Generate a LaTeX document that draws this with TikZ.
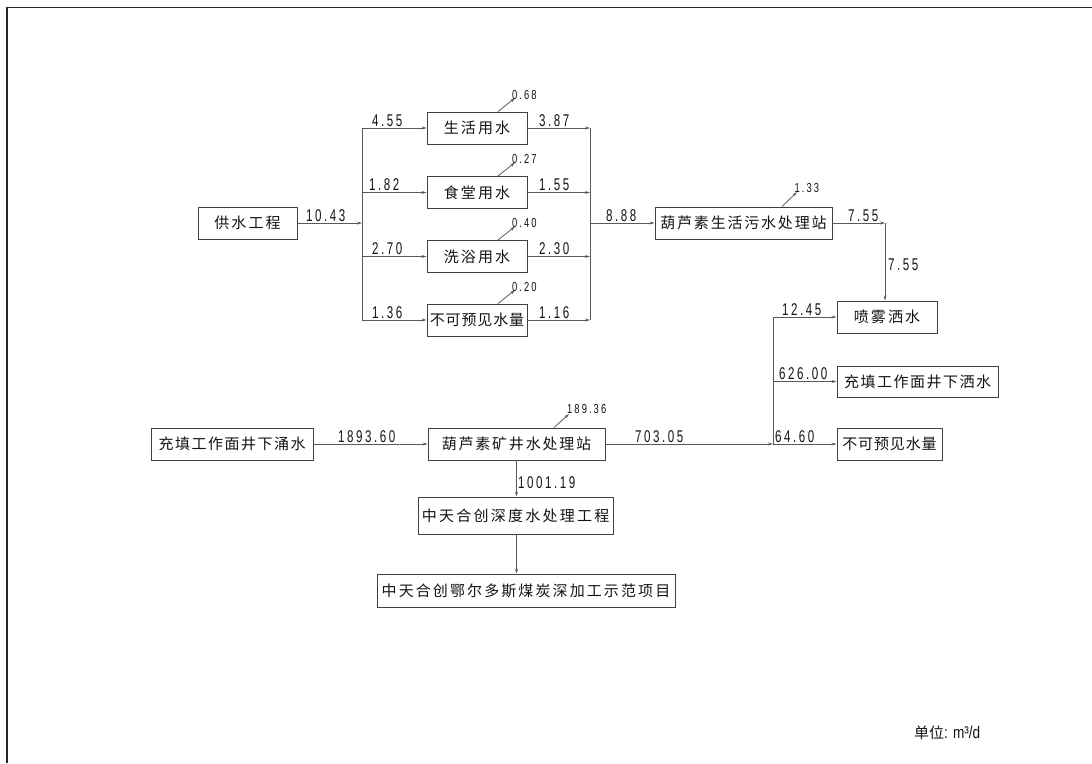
\documentclass[tikz,border=0pt]{standalone}
\usepackage{fontspec}
\usetikzlibrary{arrows.meta}
\newfontfamily\cjk{Noto Sans CJK SC}
\newfontfamily\numf[FakeStretch=0.68,LetterSpace=15]{Liberation Sans}
\newfontfamily\unitf[FakeStretch=0.8]{Liberation Sans}
\newfontfamily\smallnumf[FakeStretch=0.72,LetterSpace=16]{Liberation Sans}
\definecolor{linegray}{gray}{0.35}
\definecolor{boxgray}{gray}{0.25}
\definecolor{inkgray}{gray}{0.08}
\tikzset{
  box/.style={draw=boxgray, line width=0.9pt, minimum height=32pt, inner sep=0pt,
    text=inkgray, font={\cjk\addfontfeatures{LetterSpace=#1}\fontsize{15}{18}\selectfont}},
  box/.default=10,
  flow/.style={draw=linegray, line width=0.8pt, -{Stealth[length=5pt,width=3pt]}},
  plain/.style={draw=linegray, line width=0.8pt},
  num/.style={inner sep=0pt, anchor=base west, text=inkgray, font=\numf\fontsize{17}{19}\selectfont},
  smallnum/.style={inner sep=0pt, anchor=base west, text=inkgray, font=\smallnumf\fontsize{13}{15}\selectfont},
}
\begin{document}
\begin{tikzpicture}[x=1pt,y=-1pt]
\useasboundingbox (0,0) rectangle (1092,763);
% sheet frame
\draw[line width=1.8pt, black!85] (7,763) -- (7,7.5) -- (1092,7.5);

% domestic water supply
\node[box=14, minimum width=99pt] (gs) at (247.5,223) {供水工程};
\node[box=14, minimum width=100pt] (s1) at (477,128) {生活用水};
\node[box=14, minimum width=100pt] (s2) at (477,192.5) {食堂用水};
\node[box=14, minimum width=100pt] (s3) at (477,256.5) {洗浴用水};
\node[box=6, minimum width=100pt] (s4) at (477,320) {不可预见水量};
\node[box=12, minimum width=177pt] (ws) at (743.5,223) {葫芦素生活污水处理站};

\coordinate (lb) at (362,223);
\coordinate (rb) at (590,223);
\draw[flow] (gs) -- (lb);
\draw[plain] (lb |- s1) -- (lb |- s4);
\foreach \b in {s1,s2,s3,s4}{
  \draw[flow] (lb |- \b) -- (\b);
  \draw[flow] (\b) -- (rb |- \b);
}
\draw[plain] (rb |- s1) -- (rb |- s4);
\draw[flow] (rb) -- (ws);

\node[num] (n1) at (306,221) {10.43};
\node[num] (n2) at (372,126) {4.55};
\node[num] (n3) at (369,190.5) {1.82};
\node[num] (n4) at (372,254.5) {2.70};
\node[num] (n5) at (372,318) {1.36};
\node[num] (n6) at (539,126) {3.87};
\node[num] (n7) at (539,190.5) {1.55};
\node[num] (n8) at (539,254.5) {2.30};
\node[num] (n9) at (539,318) {1.16};
\node[num] (n10) at (606,221) {8.88};

% losses
\coordinate (q1) at (515,98);
\coordinate (q2) at (515,162.5);
\coordinate (q3) at (515,226.5);
\coordinate (q4) at (515,290);
\draw[flow] ([xshift=21pt]s1.north) -- (q1);
\draw[flow] ([xshift=21pt]s2.north) -- (q2);
\draw[flow] ([xshift=21pt]s3.north) -- (q3);
\draw[flow] ([xshift=21pt]s4.north) -- (q4);
\node[smallnum] (m1) at (512,99) {0.68};
\node[smallnum] (m2) at (512,163.5) {0.27};
\node[smallnum] (m3) at (512,227.5) {0.40};
\node[smallnum] (m4) at (512,291) {0.20};
\coordinate (q5) at (797,192);
\draw[flow] ([xshift=38.5pt]ws.north) -- (q5);
\node[smallnum] (m5) at (794.5,192) {1.33};

% reuse
\node[box=14, minimum width=100pt] (pw) at (887,317) {喷雾洒水};
\node[box=10, minimum width=161pt, minimum height=31pt] (cs) at (917.5,381.5) {充填工作面井下洒水};
\node[box=6, minimum width=105pt] (bk) at (889.5,444) {不可预见水量};

\coordinate (c1) at (885,223);
\draw[flow] (ws) -- (c1);
\draw[flow] (c1) -- (c1 |- pw.north);
\node[num] (n11) at (848,221) {7.55};
\node[num] (n12) at (888,270) {7.55};

% mine water
\node[box=10, minimum width=162pt] (yw) at (232,444) {充填工作面井下涌水};
\node[box=12, minimum width=177pt] (kj) at (516.5,444) {葫芦素矿井水处理站};
\node[box=15, minimum width=195pt, minimum height=37pt] (sd) at (515.5,515.5) {中天合创深度水处理工程};
\node[box=14, minimum width=298pt, minimum height=33pt] (xm) at (526,590.5) {中天合创鄂尔多斯煤炭深加工示范项目};

\coordinate (mb) at (773,444);
\draw[flow] (yw) -- (kj);
\draw[flow] (kj) -- (mb);
\draw[plain] (mb |- pw) -- (mb);
\draw[flow] (mb |- pw) -- (pw);
\draw[flow] (mb |- cs) -- (cs);
\draw[flow] (mb) -- (bk);
\draw[flow] (kj.south) -- (kj.south |- sd.north);
\draw[flow] (kj.south |- sd.south) -- (kj.south |- xm.north);

\node[num] (n13) at (338,442) {1893.60};
\node[num] (n14) at (635,442) {703.05};
\node[num] (n15) at (782,315) {12.45};
\node[num] (n16) at (779,379) {626.00};
\node[num] (n17) at (775,442) {64.60};
\node[num] (n18) at (518,488) {1001.19};

\coordinate (q6) at (569,414);
\draw[flow] ([xshift=37.5pt]kj.north) -- (q6);
\node[smallnum] (m6) at (567,413) {189.36};

% unit note
\node[inner sep=0pt, anchor=base west, text=inkgray] (unit) at (914,738)
  {{\cjk\fontsize{15}{17}\selectfont 单位}{\unitf\fontsize{17}{19}\selectfont: m³/d}};
\end{tikzpicture}
\end{document}
